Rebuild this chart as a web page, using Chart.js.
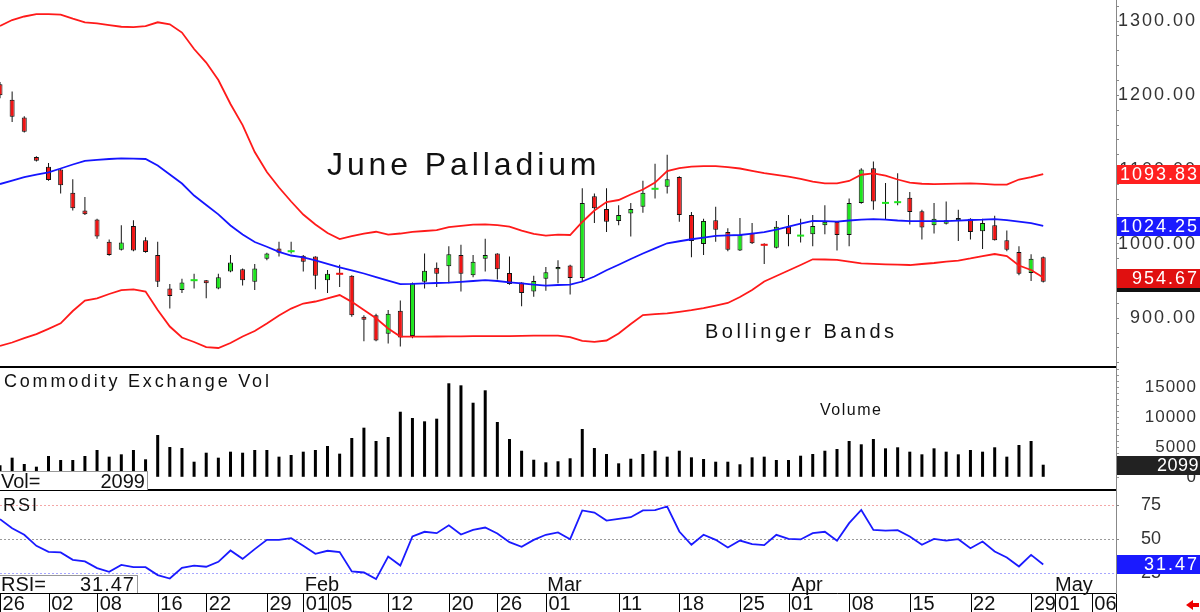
<!DOCTYPE html>
<html>
<head>
<meta charset="utf-8">
<title>June Palladium</title>
<script src="https://cdn.jsdelivr.net/npm/chart.js@4.4.1/dist/chart.umd.min.js"></script>
<style>
  html, body { margin:0; padding:0; background:#fff; }
  #wrap { position:relative; width:1200px; height:612px; overflow:hidden; background:#fff;
          font-family:"Liberation Sans", Arial, Helvetica, sans-serif; }
  #wrap canvas { position:absolute; left:0; }
  .t { position:absolute; white-space:nowrap; line-height:1; color:#111; z-index:6; }
  .sep { position:absolute; left:0; width:1116px; height:2px; background:#000; z-index:4; }
  .box { position:absolute; left:0; background:#fff; border-top:1px solid #999; border-right:1px solid #999; box-sizing:border-box; z-index:5; }
  #arrow { position:absolute; left:1186px; top:600px; width:14px; height:11px; z-index:6; }
  #arrow .hd { position:absolute; left:0; top:0; width:0; height:0; border-top:5px solid transparent; border-bottom:5px solid transparent; border-right:7px solid #e00; }
  #arrow .tl { position:absolute; left:6px; top:3px; width:7px; height:4px; background:#e00; }
</style>
</head>
<body>
<div id="wrap">
  <canvas id="cPrice" width="1200" height="368" style="top:0;width:1200px;height:368px"></canvas>
  <canvas id="cVol" width="1200" height="123" style="top:368px;width:1200px;height:123px"></canvas>
  <canvas id="cRsi" width="1200" height="121" style="top:491px;width:1200px;height:121px"></canvas>
  <div class="sep" style="top:366px"></div>
  <div class="sep" style="top:489px"></div>

  <div class="t" style="left:327px;top:148px;font-size:32px;letter-spacing:3.9px">June Palladium</div>
  <div class="t" style="left:705px;top:321px;font-size:20px;letter-spacing:3.5px">Bollinger Bands</div>
  <div class="t" style="left:4px;top:372px;font-size:18px;letter-spacing:2.8px">Commodity Exchange Vol</div>
  <div class="t" style="left:820px;top:402px;font-size:16px;letter-spacing:1.5px">Volume</div>
  <div class="t" style="left:3px;top:496px;font-size:18px;letter-spacing:2px">RSI</div>

  <div class="box" style="top:471px;width:148px;height:19px"></div>
  <div class="t" style="left:1px;top:471px;font-size:20px">Vol=</div>
  <div class="t" id="volBoxVal" style="left:100px;top:471px;font-size:20px;width:45px;text-align:right"></div>

  <div class="box" style="top:575px;width:138px;height:18px"></div>
  <div class="t" style="left:1px;top:574px;font-size:20px">RSI=</div>
  <div class="t" id="rsiBoxVal" style="left:70px;top:574px;font-size:20px;width:65px;text-align:right;letter-spacing:1px"></div>

  <div id="arrow"><div class="hd"></div><div class="tl"></div></div>
</div>
<script>
// ---------------- DATA (trading-day index, first candle = index -1) ----------------
const firstIdx = -1;
const opens = [
  1215,1194,1170,1117,1104,1100,1069,1045,1033,1003,
  992,1024,1005,985,940,938,950.8,951,940,963,
  966,949,980,994,989.8,984,983,951,960.2,957,
  902,904,879,910,876,949,968,970,985,958,
  980,987,961,948,936,953,966,971,954,1064,
  1047,1031,1041,1050,1073.8,1077,1090,1039,1000,1032,
  1016,991,1015,999.2,995,1023,1010.8,1013,1025,1030,
  1012,1055,1102,1054.8,1055.8,1062,1044,1025,1027,1032,
  1034,1017,1025,1005,989,961,982];
const highs = [
  1218,1205,1172,1118,1109,1101,1087,1063,1034,1006,
  1025,1032,1009,1003,946,953,960,951.5,960,985,
  967,973,988,1003,1003,985,983.5,965,972,958,
  904,906,911,924,948,987,975,997,999,985,
  1007,987.5,983,948.5,957,969,978,972,1075,1068,
  1075,1052,1055,1085,1108,1120,1091,1043,1034,1050,
  1021,1035,1028,1001,1031,1039,1034,1039,1052,1030.5,
  1061,1102,1111,1082,1095,1070,1046,1055,1057,1046,
  1034.5,1034,1038,1018,997,986,983];
const lows = [
  1196,1164,1150,1111,1085,1068,1045,1039,1007,984,
  991,990,988,942,913,934,940,927,939,962,
  944,938,978,983,987,963,939,934,942,902,
  869,869,866,862,873,940,942,947,936,955,
  963,952,945,916,929,937,947,932,949,1028,
  1016,1025,1010,1042,1061,1068,1030,982,985,1003,
  990,990.5,1000,973,994,997,1002,997,1013,991,
  997,1054,1046,1033,1052,1026,1006,1014,1026,1004,
  1006,993,1004.5,990,958,950,948];
const closes = [
  1200,1171,1151,1112,1086,1079,1048,1040,1010,985,
  1002,991,989,949,930,948,951.2,947,955,975,
  951,967,987,988,990.2,976,957,960,959.8,904,
  898,870,906,874,947,964,960,986,960,976,
  985,966,946,934,950,962,969,954,1055,1048,
  1030,1039,1047,1069,1074.2,1087,1039,1004,1031,1019,
  992,1012,1001,998.8,1023,1013,1011.2,1024,1030,1012,
  1055,1100,1057,1055.2,1056.2,1043,1022,1034,1032,1035,
  1016,1028,1005,992,960,980,949];
const bbUpper = [
  1293.3,1301.3,1306.1,1309.4,1309.4,1308.5,1303.1,1298.1,1296.9,1294.6,
  1292.3,1291.9,1293.0,1298.3,1295.6,1284.5,1262.3,1244.1,1220.6,1188.3,
  1160.0,1123.7,1096.8,1075.9,1057.1,1039.6,1026.1,1014.7,1006.6,1010.6,
  1014.0,1016.4,1012.4,1014.0,1016.3,1017.4,1018.7,1022.7,1024.4,1026.1,
  1026.4,1025.4,1023.4,1018.0,1013.6,1011.2,1012.4,1012.0,1029.5,1045.0,
  1056.4,1059.1,1066.5,1073.2,1082.6,1098.1,1102.1,1104.0,1104.6,1104.8,
  1103.5,1101.5,1098.4,1095.4,1093.0,1090.7,1087.6,1083.7,1081.6,1081.6,
  1084.7,1093.1,1095.0,1091.8,1086.7,1082.5,1081.0,1080.6,1080.9,1081.2,
  1081.6,1080.9,1079.7,1079.8,1086.7,1089.8,1093.83];
const bbMiddle = [
  1080.6,1085.3,1090.0,1093.4,1096.4,1101.5,1106.9,1111.8,1113.2,1114.3,
  1115.2,1114.9,1114.3,1105.5,1093.4,1081.3,1065.1,1052.4,1039.8,1024.8,
  1012.6,1002.6,996.2,989.4,984.4,982.0,977.7,973.0,968.5,964.5,
  960.2,955.4,950.7,946.0,946.3,947.0,947.4,947.9,949.0,950.1,
  951.3,950.1,948.3,946.8,945.1,943.9,944.7,945.3,949.4,956.1,
  964.5,972.0,979.7,987.1,994.1,1000.9,1003.6,1006.3,1008.6,1010.9,
  1011.4,1012.0,1014.0,1016.0,1019.4,1023.4,1027.4,1031.1,1030.6,1029.9,
  1031.5,1032.8,1033.5,1032.6,1031.5,1030.8,1030.8,1030.8,1030.8,1031.4,
  1032.2,1032.6,1033.4,1031.9,1030.0,1027.9,1024.25];
const bbLower = [
  862.6,867.3,873.3,878.7,885.7,893.1,909.7,923.6,926.8,932.6,
  937.9,938.9,935.9,911.0,888.8,874.0,868.0,861.2,859.9,866.6,
  875.4,882.8,892.9,903.6,913.0,919.8,922.5,926.8,931.2,922.0,
  911.0,899.9,886.1,875.4,875.1,875.2,875.4,875.5,875.6,875.8,
  876.0,876.0,876.0,876.3,876.5,876.5,876.5,874.7,869.6,868.2,
  870.0,879.4,892.2,904.3,905.6,906.6,908.6,910.8,913.7,917.1,
  920.5,928.5,938.0,949.4,956.8,964.2,971.6,979.3,979.0,978.6,
  976.3,973.8,973.2,972.5,972.0,971.6,973.0,974.3,976.3,977.5,
  980.4,983.7,986.4,983.7,970.9,964.9,954.67];
const volumes = [
  2000,3270,2220,1770,3550,2880,2880,3550,4550,3440,
  3830,4550,3000,7050,5050,4880,2600,4100,3270,4270,
  4100,4550,4550,3440,3720,4270,4550,5220,3940,6550,
  8270,6050,6720,10930,9880,9330,9770,15670,15330,12430,
  14500,9220,6380,4430,2930,2500,2670,3170,8050,4880,
  3880,2330,3100,3880,4430,3440,4430,3330,3050,2600,
  2600,2170,3330,3440,2880,2880,3600,3880,4430,4720,
  6050,5500,6380,4830,5000,4270,3830,4830,4270,3830,
  4550,4270,5000,3440,5380,6050,2099];
const rsiValues = [
  64.6,58.0,53.2,45.1,40.7,40.3,34.9,33.7,28.8,26.1,
  31.2,29.5,29.5,23.7,21.2,29.0,30.7,29.8,33.4,41.7,
  35.6,42.7,49.5,49.5,50.7,45.1,39.3,41.5,40.5,26.4,
  25.6,20.8,37.3,30.7,52.0,55.4,54.4,60.2,53.4,56.8,
  58.5,54.1,47.8,44.4,49.5,53.2,54.9,50.0,71.0,69.5,
  63.6,64.9,66.1,71.0,71.2,73.9,55.6,45.9,53.2,49.5,
  43.9,49.0,46.3,45.6,53.2,50.2,49.8,54.4,55.4,48.8,
  61.7,71.4,56.8,56.3,56.6,52.0,45.9,50.2,49.0,50.0,
  43.4,48.3,41.0,36.6,30.0,38.5,31.47];

const priceTickLabels = [900, 1000, 1100, 1200, 1300];
const volTickLabels = [0, 5000, 10000, 15000];
const rsiTickLabels = [25, 50, 75];
const dateTickLabels = ['26','02','08','16','22','29','01','05','12','20','26','01','11','18','25','01','08','15','22','29','01','06'];
const dateTickIdx    = [0, 4, 8, 13, 17, 22, 25, 27, 32, 37, 41, 45, 51, 56, 61, 65, 70, 75, 80, 85, 87, 90];
const monthLabels = ['Feb', 'Mar', 'Apr', 'May'];
const monthIdx    = [25, 45, 65, 87];

// ---------------- STYLE / LAYOUT ----------------
const FONT = '"Liberation Sans", Arial, Helvetica, sans-serif';
const X_MIN = -1, X_MAX = 91, AXIS_W = 81, PAD_R = 3;
const UP = '#1ee61e', DOWN = '#f01414';
Chart.defaults.font.family = FONT;
Chart.defaults.color = '#222';
Chart.defaults.animation = false;

const last = a => a[a.length - 1];
const xOf = k => firstIdx + k;

function xAxisHidden() {
  return { type: 'linear', min: X_MIN, max: X_MAX, display: false, offset: false, grid: { offset: false } };
}
function fixRightAxis(s) { s.width = AXIS_W; s.paddingTop = 0; s.paddingBottom = 0; }

function drawTag(chart, scaleId, value, bg, label, font, ls) {
  const sc = chart.scales[scaleId];
  const ctx = chart.ctx;
  const y = Math.round(sc.getPixelForValue(value));
  const x0 = chart.chartArea.right + 1;
  ctx.save();
  ctx.fillStyle = bg;
  ctx.fillRect(x0, y - 9, chart.width - x0, 19);
  ctx.fillStyle = '#fff';
  ctx.font = font;
  ctx.letterSpacing = ls;
  ctx.textAlign = 'right';
  ctx.textBaseline = 'middle';
  ctx.fillText(label, chart.width - 1, y + 1);
  ctx.restore();
}

// ---------------- PRICE PANEL ----------------
const wicks = [], bodies = [], dojis = [];
for (let k = 0; k < opens.length; k++) {
  const o = opens[k], c = closes[k], x = xOf(k), up = c >= o;
  wicks.push({ x, y: [lows[k], highs[k]] });
  if (Math.abs(c - o) < 1) dojis.push({ x, y: [c - 1.35, c + 1.35], up });
  else bodies.push({ x, y: [Math.min(o, c), Math.max(o, c)], up });
}
const priceTicks = [];
for (let v = 840; v <= 1320; v += 20) priceTicks.push(v);

const lineDs = (arr, color) => ({
  type: 'line', data: arr.map((v, k) => ({ x: xOf(k), y: v })),
  borderColor: color, borderWidth: 1.8, pointRadius: 0, tension: 0, order: 0, fill: false
});

new Chart(document.getElementById('cPrice'), {
  type: 'bar',
  data: {
    datasets: [
      lineDs(bbUpper, '#ff1a1a'),
      lineDs(bbLower, '#ff1a1a'),
      lineDs(bbMiddle, '#1515ff'),
      { type: 'bar', data: bodies, order: 1, grouped: false, barThickness: 5, inflateAmount: 0,
        backgroundColor: c => (c.raw && c.raw.up) ? UP : DOWN,
        borderColor: '#111', borderWidth: 1, borderSkipped: false },
      { type: 'bar', data: dojis, order: 1, grouped: false, barThickness: 7, inflateAmount: 0,
        backgroundColor: c => (c.raw && c.raw.up) ? UP : DOWN, borderWidth: 0 },
      { type: 'bar', data: wicks, order: 2, grouped: false, barThickness: 1, inflateAmount: 0,
        backgroundColor: '#111', borderWidth: 0 }
    ]
  },
  options: {
    responsive: false, devicePixelRatio: 1, events: [], indexAxis: 'x',
    layout: { padding: { left: 0, right: PAD_R, top: 0, bottom: 0 } },
    plugins: { legend: { display: false }, tooltip: { enabled: false } },
    scales: {
      x: xAxisHidden(),
      y: {
        position: 'right', min: 833.0, max: 1328.3,
        afterFit: fixRightAxis,
        afterBuildTicks: s => { s.ticks = priceTicks.map(v => ({ value: v })); },
        grid: { drawOnChartArea: false, drawTicks: true, tickLength: 3, color: '#888' },
        border: { display: true, color: '#888', width: 1 },
        ticks: { autoSkip: false, crossAlign: 'far', padding: 0, color: '#333', font: { size: 18 },
          callback: v => priceTickLabels.includes(v) ? v.toFixed(2) : '' }
      }
    }
  },
  plugins: [{
    id: 'priceTags',
    beforeDraw(chart) { chart.ctx.letterSpacing = '2px'; },
    afterDraw(chart) {
      const f = '18px ' + FONT;
      drawTag(chart, 'y', last(closes), '#111', last(closes).toFixed(2), f, '2px');
      drawTag(chart, 'y', last(bbLower), '#e01010', last(bbLower).toFixed(2), f, '2px');
      drawTag(chart, 'y', last(bbMiddle), '#1a1aff', last(bbMiddle).toFixed(2), f, '2px');
      drawTag(chart, 'y', last(bbUpper), '#ff2020', last(bbUpper).toFixed(2), f, '2px');
    }
  }]
});

// ---------------- VOLUME PANEL ----------------
const volTicks = [];
for (let v = 0; v <= 18000; v += 1000) volTicks.push(v);
new Chart(document.getElementById('cVol'), {
  type: 'bar',
  data: { datasets: [{
    data: volumes.map((v, k) => ({ x: xOf(k), y: v })),
    backgroundColor: '#000', borderWidth: 0, barThickness: 3, grouped: false, inflateAmount: 0
  }] },
  options: {
    responsive: false, devicePixelRatio: 1, events: [],
    layout: { padding: { left: 0, right: PAD_R, top: 0, bottom: 0 } },
    plugins: { legend: { display: false }, tooltip: { enabled: false } },
    scales: {
      x: xAxisHidden(),
      y: {
        position: 'right', min: -2283, max: 18217,
        afterFit: fixRightAxis,
        afterBuildTicks: s => { s.ticks = volTicks.map(v => ({ value: v })); },
        grid: { drawOnChartArea: false, drawTicks: true, tickLength: 3, color: '#999' },
        border: { display: true, color: '#888', width: 1 },
        ticks: { autoSkip: false, crossAlign: 'far', padding: 0, color: '#333', font: { size: 17 },
          callback: v => volTickLabels.includes(v) ? String(v) : '' }
      }
    }
  },
  plugins: [{
    id: 'volTag',
    beforeDraw(chart) { chart.ctx.letterSpacing = '1px'; },
    afterDraw(chart) {
      drawTag(chart, 'y', last(volumes), '#222', String(last(volumes)), '18px ' + FONT, '0.5px');
    }
  }]
});
document.getElementById('volBoxVal').textContent = String(last(volumes));

// ---------------- RSI PANEL + DATE AXIS ----------------
const rsiGridColor = v => v === 75 ? '#f4a6a6' : (v === 50 ? '#9a9a9a' : '#a6a6ff');
const dateTickVals = dateTickIdx.map(i => i - 0.95).concat([X_MAX]);
new Chart(document.getElementById('cRsi'), {
  type: 'line',
  data: { datasets: [{
    data: rsiValues.map((v, k) => ({ x: xOf(k), y: v })),
    borderColor: '#1a1aff', borderWidth: 1.8, pointRadius: 0, tension: 0, fill: false
  }] },
  options: {
    responsive: false, devicePixelRatio: 1, events: [],
    layout: { padding: { left: 0, right: PAD_R, top: 0, bottom: 0 } },
    plugins: { legend: { display: false }, tooltip: { enabled: false } },
    scales: {
      x: {
        type: 'linear', position: 'bottom', min: X_MIN, max: X_MAX, offset: false,
        afterBuildTicks: s => { s.ticks = dateTickVals.map(v => ({ value: v })); },
        afterFit: s => { s.height = 19; s.paddingLeft = 0; s.paddingRight = 0; },
        grid: { offset: false, drawOnChartArea: false, drawTicks: true, tickLength: 19, color: '#000', lineWidth: 1 },
        border: { display: true, color: '#000', width: 1 },
        ticks: { autoSkip: false, maxRotation: 0, minRotation: 0, align: 'start', labelOffset: 2,
          padding: -20, color: '#111', font: { size: 20 },
          callback: (v, i) => i < dateTickLabels.length ? dateTickLabels[i] : '' }
      },
      y: {
        position: 'right', min: 10.6, max: 85.25,
        afterFit: fixRightAxis,
        afterBuildTicks: s => { s.ticks = rsiTickLabels.map(v => ({ value: v })); },
        grid: { drawOnChartArea: true, drawTicks: true, tickLength: 3, lineWidth: 1,
          color: c => rsiGridColor(c.tick ? c.tick.value : 0), tickColor: '#888' },
        border: { display: true, color: '#888', width: 1, dash: [2, 2] },
        ticks: { autoSkip: false, crossAlign: 'near', padding: 22, color: '#333', font: { size: 18 },
          callback: v => String(v) }
      }
    }
  },
  plugins: [{
    id: 'rsiExtras',
    afterDraw(chart) {
      const ctx = chart.ctx, xs = chart.scales.x, ca = chart.chartArea;
      ctx.save();
      ctx.font = '20px ' + FONT;
      ctx.fillStyle = '#111';
      ctx.textAlign = 'center';
      ctx.textBaseline = 'middle';
      monthLabels.forEach((m, i) => ctx.fillText(m, xs.getPixelForValue(monthIdx[i]) + 6.5, ca.bottom - 8));
      ctx.restore();
      drawTag(chart, 'y', last(rsiValues), '#1a1aff', last(rsiValues).toFixed(2), '18px ' + FONT, '2px');
    }
  }]
});
document.getElementById('rsiBoxVal').textContent = last(rsiValues).toFixed(2);
</script>
</body>
</html>
